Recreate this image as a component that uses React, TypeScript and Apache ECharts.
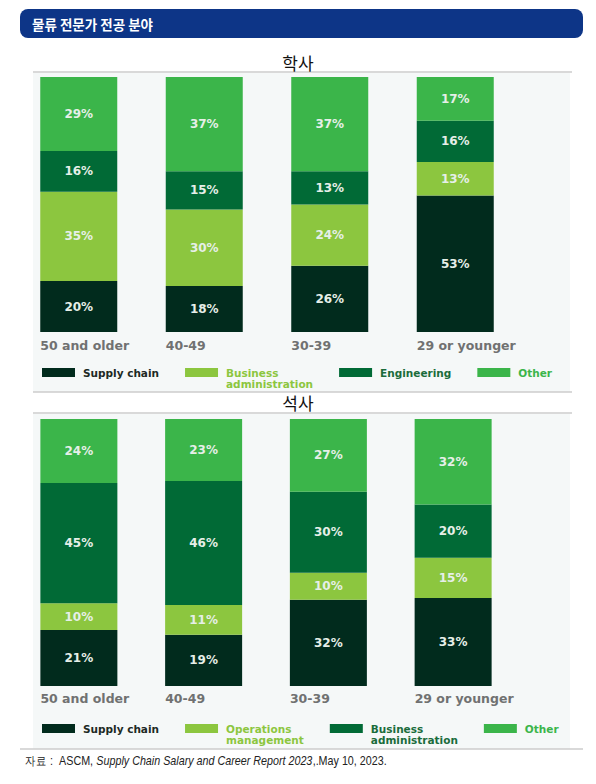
import React, { useEffect, useRef } from 'react';
import * as echarts from 'echarts';

const categories = ['50 and older', '40-49', '30-39', '29 or younger'];

// 학사 (bachelor)
const bachelorNames = ['Supply chain', 'Business administration', 'Engineering', 'Other'];
const bSupply = [20, 18, 26, 53];
const bBusiness = [35, 30, 24, 13];
const bEngineering = [16, 15, 13, 16];
const bOther = [29, 37, 37, 17];

// 석사 (master) — trailing spaces keep legend names distinct from the top chart
const masterNames = ['Supply chain ', 'Operations management', 'Business administration ', 'Other '];
const mSupply = [21, 19, 32, 33];
const mOperations = [10, 11, 10, 15];
const mBusiness = [45, 46, 30, 20];
const mOther = [24, 23, 27, 32];

const C_SUPPLY = '#012b1d';
const C_LIGHT = '#8cc63f';
const C_DARK = '#016a36';
const C_OTHER = '#3bb54a';

const T_SUPPLY = '#1d2a24';
const T_LIGHT = '#8cc63f';
const T_DARK = '#1a6c3b';
const T_OTHER = '#3bb54a';

const WIDE = 'DejaVu Sans';

// leading blank line keeps the first line level with the swatch, the second hanging below
const legendDisplay: Record<string, string> = {
  'Supply chain': 'Supply chain',
  'Business administration': '\nBusiness\nadministration',
  'Engineering': 'Engineering',
  'Other': 'Other',
  'Supply chain ': 'Supply chain',
  'Operations management': '\nOperations\nmanagement',
  'Business administration ': '\nBusiness\nadministration',
  'Other ': 'Other',
};

function makeSeries(names: string[], colors: string[], values: number[][], idx: number) {
  const totals = categories.map((_, i) => values.reduce((s, arr) => s + arr[i], 0));
  return names.map((name, k) => ({
    type: 'bar',
    name,
    stack: 'stack' + idx,
    xAxisIndex: idx,
    yAxisIndex: idx,
    barWidth: 77,
    itemStyle: { color: colors[k] },
    emphasis: { disabled: true },
    data: values[k].map((v, i) => ({ value: (v / totals[i]) * 100, raw: v })),
    label: {
      show: true,
      position: 'inside',
      formatter: (p: any) => p.data.raw + '%',
      color: '#e6efe8',
      fontSize: 12,
      fontWeight: 'bold',
      fontFamily: WIDE,
    },
  }));
}

function legendItem(name: string, color: string, textColor: string) {
  return {
    name,
    itemStyle: { color },
    textStyle: { color: textColor },
  };
}

function xAxisFor(idx: number, margin: number) {
  return {
    type: 'category',
    gridIndex: idx,
    data: categories,
    axisLine: { show: false },
    axisTick: { show: false },
    axisLabel: {
      margin,
      interval: 0,
      formatter: (v: string) => '{a|' + v + '}',
      rich: {
        a: {
          width: 77,
          align: 'left',
          color: '#707171',
          fontSize: 12.5,
          fontWeight: 'bold',
          fontFamily: WIDE,
        },
      },
    },
  };
}

const legendBase = {
  orient: 'horizontal',
  left: 42,
  padding: 0,
  itemWidth: 33,
  itemHeight: 9,
  itemGap: 26,
  icon: 'rect',
  selectedMode: false,
  formatter: (n: string) => legendDisplay[n] ?? n,
  textStyle: { fontSize: 10.5, fontWeight: 'bold', fontFamily: WIDE, lineHeight: 11, padding: [0, 0, 0, 3] },
};

const option: any = {
  animation: false,
  backgroundColor: '#ffffff',
  grid: [
    { left: 16, width: 502, top: 77, height: 255 },
    { left: 16.5, width: 499, top: 419, height: 267 },
  ],
  xAxis: [xAxisFor(0, 7), xAxisFor(1, 6)],
  yAxis: [
    { type: 'value', gridIndex: 0, min: 0, max: 100, show: false },
    { type: 'value', gridIndex: 1, min: 0, max: 100, show: false },
  ],
  legend: [
    {
      ...legendBase,
      top: 356,
      data: [
        legendItem(bachelorNames[0], C_SUPPLY, T_SUPPLY),
        legendItem(bachelorNames[1], C_LIGHT, T_LIGHT),
        legendItem(bachelorNames[2], C_DARK, T_DARK),
        legendItem(bachelorNames[3], C_OTHER, T_OTHER),
      ],
    },
    {
      ...legendBase,
      top: 712,
      data: [
        legendItem(masterNames[0], C_SUPPLY, T_SUPPLY),
        legendItem(masterNames[1], C_LIGHT, T_LIGHT),
        legendItem(masterNames[2], C_DARK, T_DARK),
        legendItem(masterNames[3], C_OTHER, T_OTHER),
      ],
    },
  ],
  graphic: [
    { type: 'rect', z: -10, shape: { x: 20, y: 9, width: 563, height: 29, r: 8 }, style: { fill: '#0d3587' } },
    {
      type: 'text', x: 32, y: 23.5,
      style: { text: '물류 전문가 전공 분야', fill: '#ffffff', fontSize: 13.5, fontWeight: 'bold', fontFamily: 'Noto Sans CJK KR', verticalAlign: 'middle', align: 'left' },
    },
    {
      type: 'text', x: 298, y: 62,
      style: { text: '학사', fill: '#111111', fontSize: 17, fontFamily: 'Noto Sans CJK KR', verticalAlign: 'middle', align: 'center' },
    },
    { type: 'rect', z: -10, shape: { x: 33, y: 73, width: 537, height: 319 }, style: { fill: '#f5f8f8' } },
    { type: 'line', z: -5, shape: { x1: 33, y1: 72, x2: 572, y2: 72 }, style: { stroke: '#cccccc', lineWidth: 1.5 } },
    { type: 'line', z: -5, shape: { x1: 33, y1: 392, x2: 572, y2: 392 }, style: { stroke: '#cccccc', lineWidth: 1.5 } },
    {
      type: 'text', x: 298, y: 402.5,
      style: { text: '석사', fill: '#111111', fontSize: 17, fontFamily: 'Noto Sans CJK KR', verticalAlign: 'middle', align: 'center' },
    },
    { type: 'line', z: -5, shape: { x1: 33, y1: 413, x2: 572, y2: 413 }, style: { stroke: '#cccccc', lineWidth: 1.5 } },
    { type: 'rect', z: -10, shape: { x: 33, y: 414, width: 537, height: 335 }, style: { fill: '#f5f8f8' } },
    { type: 'line', z: -5, shape: { x1: 20, y1: 749, x2: 583, y2: 749 }, style: { stroke: '#cccccc', lineWidth: 1.5 } },
    {
      type: 'text', x: 25, y: 760, scaleX: 0.86,
      style: {
        text: '{n|자료 :  ASCM, }{i|Supply Chain Salary and Career Report 2023}{n|,.May 10, 2023.}',
        verticalAlign: 'middle',
        align: 'left',
        rich: {
          n: { fontSize: 12.5, fill: '#222222', fontFamily: 'Liberation Sans' },
          i: { fontSize: 12.5, fill: '#222222', fontFamily: 'Liberation Sans', fontStyle: 'italic' },
        },
      },
    },
  ],
  series: [
    ...makeSeries(bachelorNames, [C_SUPPLY, C_LIGHT, C_DARK, C_OTHER], [bSupply, bBusiness, bEngineering, bOther], 0),
    ...makeSeries(masterNames, [C_SUPPLY, C_LIGHT, C_DARK, C_OTHER], [mSupply, mOperations, mBusiness, mOther], 1),
  ],
};

export default function App() {
  const ref = useRef<HTMLDivElement>(null);
  useEffect(() => {
    document.body.style.margin = '0';
    const chart = echarts.init(ref.current as HTMLDivElement, null, { renderer: 'svg' });
    chart.setOption(option);
    return () => chart.dispose();
  }, []);
  return <div ref={ref} style={{ width: 596, height: 784 }} />;
}
